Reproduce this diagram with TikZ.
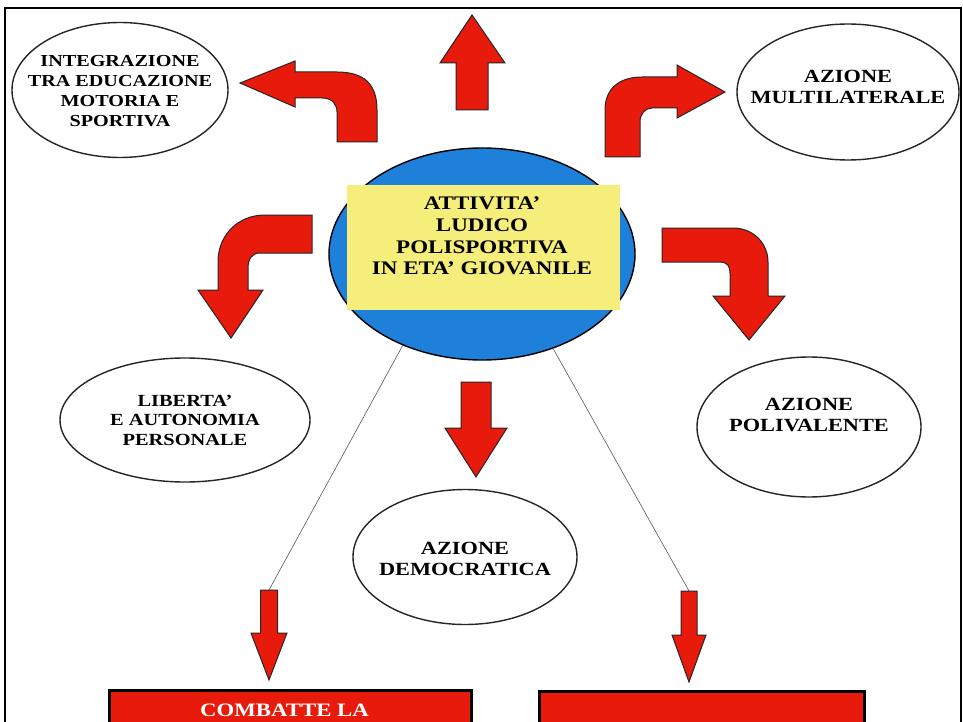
\documentclass[tikz,border=0pt]{standalone}
\usepackage{fontspec}
\setmainfont{Liberation Serif}[FakeStretch=1.2]
\usetikzlibrary{shapes.geometric,positioning}
\definecolor{arrowred}{RGB}{232,26,12}
\definecolor{coreblue}{RGB}{30,128,216}
\definecolor{panelyellow}{RGB}{246,238,122}
\tikzset{
  bubble/.style={ellipse, draw=black!85, line width=1.4pt, fill=white, inner sep=0pt, outer sep=0pt},
  bubbletext/.style 2 args={align=center, inner sep=0pt, font={\bfseries\fontsize{#1}{#2}\selectfont}},
  bigarrow/.style={fill=arrowred, draw=black!85, line width=1pt, line join=miter},
  redbox/.style={rectangle, fill=arrowred, draw=black, line width=3pt, anchor=north west, inner sep=0pt},
  thinline/.style={draw=black!65, line width=0.6pt}
}
\begin{document}
\begin{tikzpicture}[x=1pt, y=-1pt]
\useasboundingbox (0,0) rectangle (963,722);
\clip (0,0) rectangle (963,722);
\fill[white] (0,0) rectangle (963,722);
\draw[line width=2.5pt] (5,8) rectangle (961,760);

% centre
\node[ellipse, fill=coreblue, draw=black, line width=1.4pt, outer sep=0pt, minimum width=306pt, minimum height=212pt] (core) at (482,254) {};
\node[rectangle, fill=panelyellow, minimum width=273pt, minimum height=125pt] (panel) at (483.5,247.5) {};
\node[bubbletext={19.2}{21.7}] (coretext) at (482,236) {ATTIVITA'\\LUDICO\\POLISPORTIVA\\IN ETA' GIOVANILE};

% ellipses
\node[bubble, minimum width=216pt, minimum height=135pt] (integ) at (120,90) {};
\node[bubbletext={16.8}{20}, yshift=-1pt] (integtext) at (integ) {INTEGRAZIONE\\TRA EDUCAZIONE\\MOTORIA E\\SPORTIVA};
\node[bubble, minimum width=222pt, minimum height=136pt] (multi) at (848,92) {};
\node[bubbletext={18.6}{21}, yshift=5pt] (multitext) at (multi) {AZIONE\\MULTILATERALE};
\node[bubble, minimum width=250pt, minimum height=124pt] (liberta) at (185,420) {};
\node[bubbletext={17}{19.5}] (libertatext) at (liberta) {LIBERTA'\\E AUTONOMIA\\PERSONALE};
\node[bubble, minimum width=224pt, minimum height=140pt] (poliv) at (809,427) {};
\node[bubbletext={18.6}{21}, yshift=12pt] (polivtext) at (poliv) {AZIONE\\POLIVALENTE};
\node[bubble, minimum width=224pt, minimum height=135pt] (democ) at (465,557) {};
\node[bubbletext={18.6}{21}, yshift=-2pt] (democtext) at (democ) {AZIONE\\DEMOCRATICA};

% curved arrows
\draw[bigarrow] (337,142) -- (377,142) -- (377,110) .. controls (377,84) and (364,72) .. (337,72) -- (295,72) -- (295,61) -- (240,83) -- (295,107) -- (295,98) -- (322,98) .. controls (332,98) and (337,104) .. (337,112) -- cycle;
\draw[bigarrow] (605,157) -- (605,110) .. controls (605,88) and (620,77) .. (642,77) -- (677,77) -- (677,65) -- (725,92) -- (677,118) -- (677,108) -- (652,108) .. controls (645,108) and (640,114) .. (640,122) -- (640,157) -- cycle;
\draw[bigarrow] (312,215) -- (265,215) .. controls (238,215) and (218,235) .. (218,262) -- (218,290) -- (198,290) -- (231,338) -- (263,290) -- (248,290) -- (248,268) .. controls (248,259) and (252,253) .. (260,253) -- (312,253) -- cycle;
\draw[bigarrow] (662,228) -- (733,228) .. controls (753,228) and (768,243) .. (768,262) -- (768,296) -- (785,296) -- (749,340) -- (713,296) -- (730,296) -- (730,273) .. controls (730,266) and (727,262) .. (720,262) -- (662,262) -- cycle;

% straight arrows
\draw[bigarrow] (456,110) -- (456,63) -- (440,63) -- (472,15) -- (505,63) -- (488,63) -- (488,110) -- cycle;
\draw[bigarrow] (461,382) -- (491,382) -- (491,428) -- (507,428) -- (476,477) -- (445,428) -- (461,428) -- cycle;

% thin lines to the lower arrows
\coordinate (ltop) at (269,590);
\coordinate (rtop) at (689,591);
\draw[thinline] (core.229) -- (ltop);
\draw[thinline] (core.307) -- (rtop);
\draw[bigarrow] (260.5,590) -- (277.5,590) -- (277.5,633) -- (287,633) -- (269,680) -- (251,633) -- (260.5,633) -- cycle;
\draw[bigarrow] (681,591) -- (697,591) -- (697,635) -- (706,635) -- (689,682) -- (672,635) -- (681,635) -- cycle;

% bottom boxes
\node[redbox, minimum width=362pt, minimum height=80pt] (lbox) at (108,689) {};
\node[redbox, minimum width=325pt, minimum height=80pt] (rbox) at (538,690) {};
\node[below=15pt of lbox.north, xshift=-6pt, text=white, inner sep=0pt, font={\bfseries\fontsize{19}{22}\selectfont}] (lboxtext) {COMBATTE LA};
\end{tikzpicture}
\end{document}
